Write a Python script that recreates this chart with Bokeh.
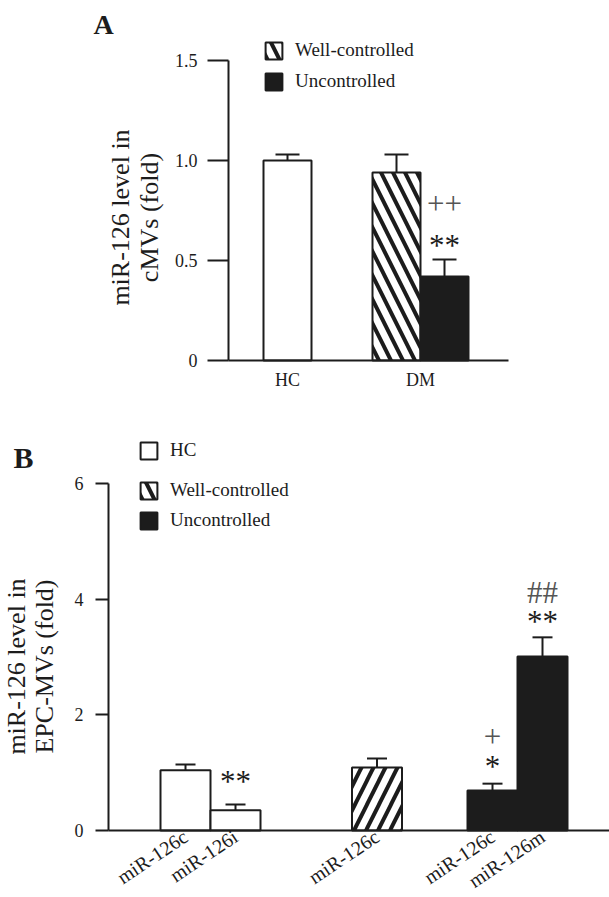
import math
from bokeh.plotting import figure
from bokeh.models import Range1d, FixedTicker, Legend, LegendItem, Label
from bokeh.layouts import column
from bokeh.embed import file_html
from bokeh.resources import INLINE

FONT = "Liberation Serif"
INK = "#1c1c1c"
GREY = "#555555"

# ---------------- data: panel A ----------------
groups_a = ["HC", "DM"]
series_a = ["HC", "Well-controlled", "Uncontrolled"]
values_a = [1.00, 0.94, 0.42]
errors_a = [0.03, 0.09, 0.085]
yticks_a = [0, 0.5, 1.0, 1.5]
ytick_labels_a = ["0", "0.5", "1.0", "1.5"]
sig_a = [(2, "**"), (2, "++")]

# ---------------- data: panel B ----------------
bars_b = ["miR-126c", "miR-126i", "miR-126c", "miR-126c", "miR-126m"]
series_b = ["HC", "HC", "Well-controlled", "Uncontrolled", "Uncontrolled"]
values_b = [1.04, 0.35, 1.09, 0.69, 3.01]
errors_b = [0.10, 0.10, 0.155, 0.12, 0.33]
yticks_b = [0, 2, 4, 6]
sig_b = [(1, "**"), (3, "*"), (3, "+"), (4, "**"), (4, "##")]

# ---------------- layout (pixel positions) ----------------
W = 609
# panel A: figure 0..420 px high; value 0 at y=360 px, 200 px per unit
HA, ZA, SA = 420, 360, 200.0
axis_x_a, axis_end_a = 228, 508
xpos_a = [287, 396, 444]
group_pos_a = [287, 420]
bar_w_a, cap_a = 48, 12
# panel B: figure 420..897 px; value 0 at y=830 px (page), 6 at 483
TB, HB, ZB = 420, 477, 830
SB = (830 - 483) / 6.0
axis_x_b = 108
xpos_b = [185, 235, 376.5, 492, 542]
bar_w_b, cap_b = 50, 10

sig_off_a = {"**": 14, "++": 56}
sig_off_b = [23, 17, 47, 16, 45]
sig_col = {"**": INK, "*": INK, "++": GREY, "+": GREY, "##": GREY}

styles = {
    "HC": dict(fill_color="white", hatch_pattern=" "),
    "Well-controlled": dict(fill_color="white", hatch_pattern="\\", hatch_color=INK,
                            hatch_scale=24, hatch_weight=4),
    "Uncontrolled": dict(fill_color=INK, hatch_pattern=" "),
}


def base_fig(h, yr):
    p = figure(width=W, height=h, x_range=Range1d(0, W), y_range=Range1d(*yr),
               output_backend="svg", toolbar_location=None,
               min_border_left=0, min_border_right=0, min_border_top=0, min_border_bottom=0)
    p.xgrid.visible = False
    p.ygrid.visible = False
    p.outline_line_color = None
    p.background_fill_color = "white"
    p.border_fill_color = "white"
    for ax in (p.xaxis[0], p.yaxis[0]):
        ax.axis_line_width = 2
        ax.axis_line_color = INK
        ax.major_tick_line_width = 2
        ax.major_tick_line_color = INK
        ax.minor_tick_line_color = None
        ax.major_tick_in = 0
        ax.major_label_text_font = FONT
        ax.major_label_text_color = INK
    p.xaxis.fixed_location = 0
    p.xaxis.major_tick_out = 0
    p.xaxis.major_tick_line_color = None
    return p


def draw_bars(p, xs, vals, errs, sers, width, cap, pattern_override=None):
    rends = {}
    for s in ["HC", "Well-controlled", "Uncontrolled"]:
        idx = [i for i, ss in enumerate(sers) if ss == s]
        if not idx:
            continue
        st = dict(styles[s])
        if pattern_override and s in pattern_override:
            st["hatch_pattern"] = pattern_override[s]
        r = p.vbar(x=[xs[i] for i in idx], top=[vals[i] for i in idx], bottom=0,
                   width=width, line_color=INK, line_width=2, **st)
        rends[s] = r
    tops = [v + e for v, e in zip(vals, errs)]
    p.segment(x0=xs, y0=vals, x1=xs, y1=tops, line_color=INK, line_width=2)
    p.segment(x0=[x - cap for x in xs], y0=tops, x1=[x + cap for x in xs], y1=tops,
              line_color=INK, line_width=2)
    return rends


def make_legend(items, loc, spacing):
    return Legend(items=items, location=loc, glyph_width=21, glyph_height=21,
                  spacing=spacing, padding=0, margin=0, label_standoff=11,
                  border_line_color=None, background_fill_alpha=0,
                  inactive_fill_alpha=0,
                  label_text_font=FONT, label_text_font_size="19px",
                  label_text_color=INK, label_height=21)


def screen_label(p, x, y, text, size, bold=False, angle=0.0, baseline="middle", align="center"):
    p.add_layout(Label(x=x, y=y, x_units="screen", y_units="screen", text=text,
                       angle=angle, text_font=FONT, text_font_size=size,
                       text_font_style="bold" if bold else "normal",
                       text_color=INK, text_baseline=baseline, text_align=align))


# ================= Panel A =================
pA = base_fig(HA, (-(HA - ZA) / SA, ZA / SA))
pA.yaxis.fixed_location = axis_x_a
pA.yaxis.bounds = (0, 1.5)
pA.yaxis.ticker = FixedTicker(ticks=yticks_a)
pA.yaxis.major_label_overrides = {t: l for t, l in zip(yticks_a, ytick_labels_a)}
pA.yaxis.major_tick_out = 21
pA.yaxis.major_label_standoff = 10
pA.yaxis.major_label_text_font_size = "18px"
pA.xaxis.bounds = (axis_x_a, axis_end_a)
pA.xaxis.ticker = FixedTicker(ticks=group_pos_a)
pA.xaxis.major_label_overrides = {t: l for t, l in zip(group_pos_a, groups_a)}
pA.xaxis.major_label_standoff = 9
pA.xaxis.major_label_text_font_size = "18px"

rA = draw_bars(pA, xpos_a, values_a, errors_a, series_a, bar_w_a, cap_a)
pA.add_layout(make_legend(
    [LegendItem(label="Well-controlled", renderers=[rA["Well-controlled"]]),
     LegendItem(label="Uncontrolled", renderers=[rA["Uncontrolled"]])],
    (263, HA - 92), 9))

for i, t in sig_a:
    pA.add_layout(Label(x=xpos_a[i], y=values_a[i] + errors_a[i], y_offset=sig_off_a[t],
                        text=t, text_align="center", text_baseline="middle",
                        text_font=FONT, text_font_size="31px", text_color=sig_col[t]))

screen_label(pA, 93, HA - 24, "A", "28px", bold=True, baseline="alphabetic", align="left")
screen_label(pA, 120, HA - 217, "miR-126 level in", "26px", angle=math.pi / 2)
screen_label(pA, 149, HA - 217, "cMVs (fold)", "26px", angle=math.pi / 2)

# ================= Panel B =================
bot_b = TB + HB
pB = base_fig(HB, (-(bot_b - ZB) / SB, (ZB - TB) / SB))
pB.yaxis.fixed_location = axis_x_b
pB.yaxis.bounds = (0, 6)
pB.yaxis.ticker = FixedTicker(ticks=yticks_b)
pB.yaxis.major_tick_out = 13
pB.yaxis.major_label_standoff = 12
pB.yaxis.major_label_text_font_size = "18px"
pB.xaxis.bounds = (axis_x_b, W)
pB.xaxis.ticker = FixedTicker(ticks=xpos_b)
pB.xaxis.major_label_overrides = {t: l for t, l in zip(xpos_b, bars_b)}
pB.xaxis.major_label_standoff = 4
pB.xaxis.major_label_orientation = 0.59
pB.xaxis.major_label_text_font_size = "20px"

rB = draw_bars(pB, xpos_b, values_b, errors_b, series_b, bar_w_b, cap_b,
               pattern_override={"Well-controlled": "/"})
# hidden copy of the well-controlled bar, used only for its legend swatch ("\" hatch)
legend_well = pB.vbar(x=[xpos_b[2]], top=[values_b[2]], bottom=0, width=bar_w_b,
                      line_color=INK, line_width=2, visible=False,
                      **styles["Well-controlled"])
pB.add_layout(make_legend([LegendItem(label="HC", renderers=[rB["HC"]])],
                          (138, bot_b - 461), 8))
pB.add_layout(make_legend(
    [LegendItem(label="Well-controlled", renderers=[legend_well]),
     LegendItem(label="Uncontrolled", renderers=[rB["Uncontrolled"]])],
    (138, bot_b - 531), 8))

for (i, t), off in zip(sig_b, sig_off_b):
    pB.add_layout(Label(x=xpos_b[i], y=values_b[i] + errors_b[i], y_offset=off,
                        text=t, text_align="center", text_baseline="middle",
                        text_font=FONT, text_font_size="31px", text_color=sig_col[t]))

screen_label(pB, 13, bot_b - 457, "B", "30px", bold=True, baseline="alphabetic", align="left")
screen_label(pB, 16, bot_b - 666, "miR-126 level in", "26px", angle=math.pi / 2)
screen_label(pB, 44, bot_b - 666, "EPC-MVs (fold)", "26px", angle=math.pi / 2)

layout = column(pA, pB, spacing=0)
open("out.html", "w").write(file_html(layout, INLINE))
